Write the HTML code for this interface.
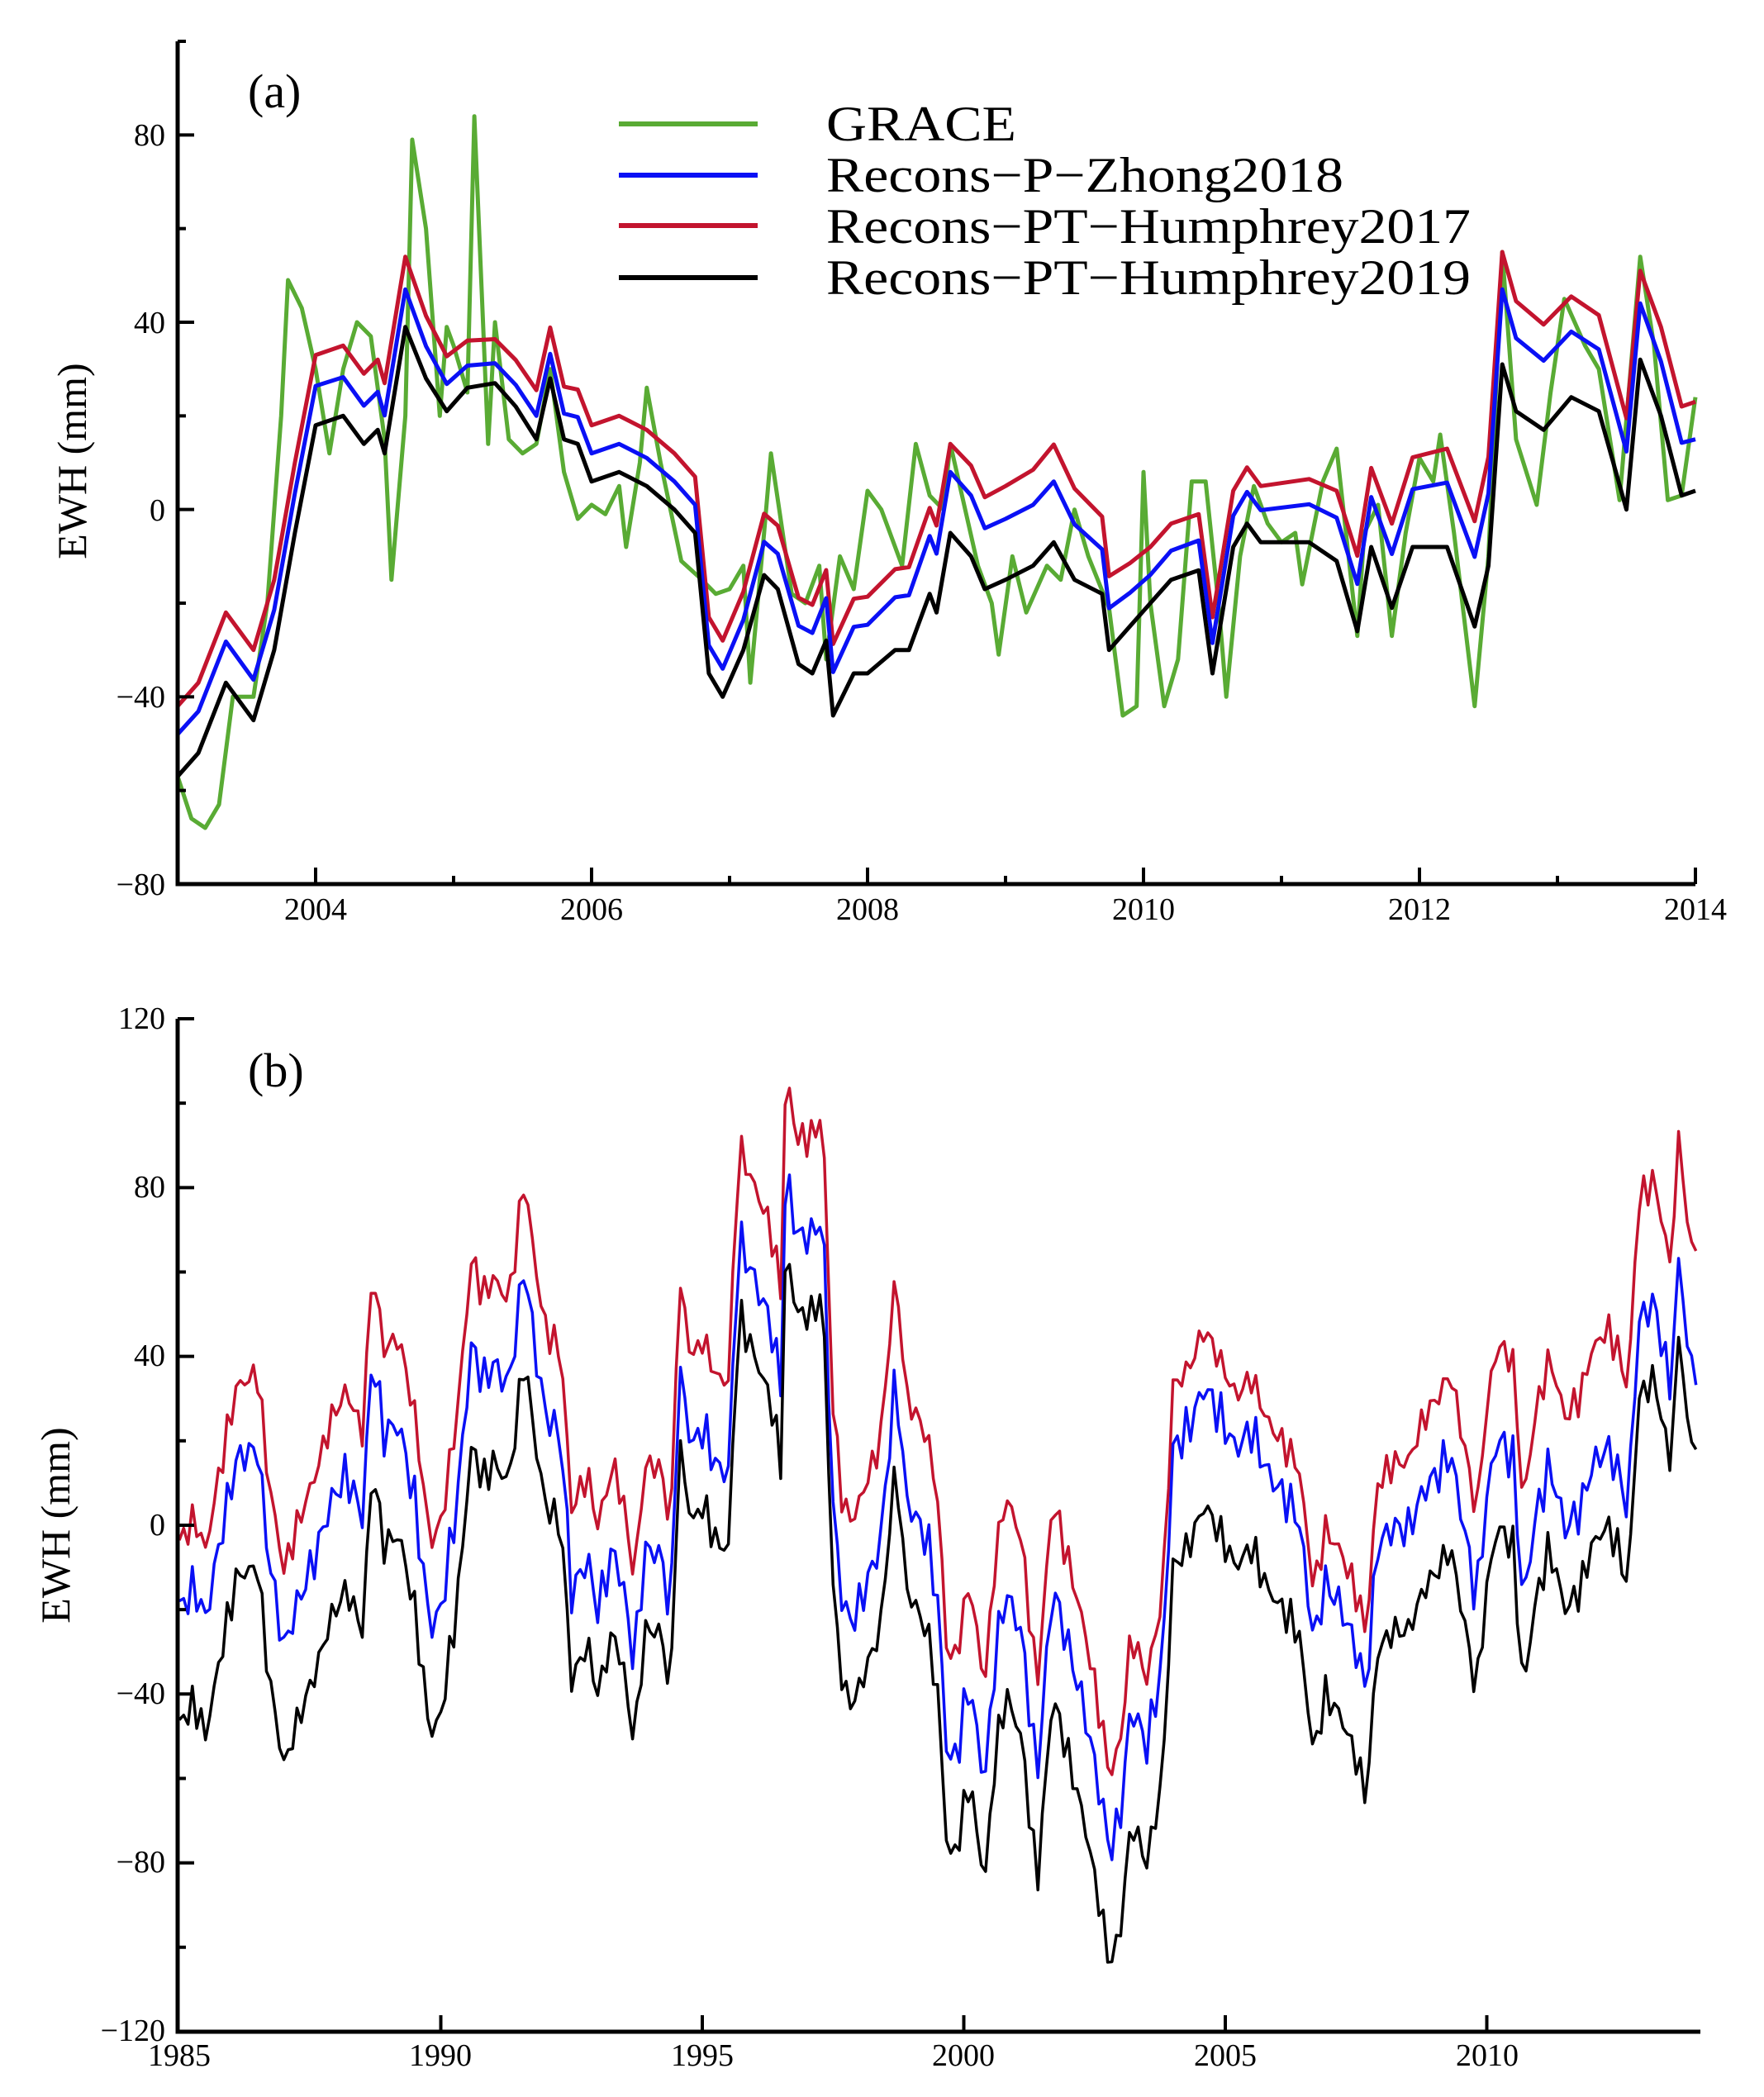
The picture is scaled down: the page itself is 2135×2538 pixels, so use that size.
<!DOCTYPE html>
<html><head><meta charset="utf-8"><style>
html,body{margin:0;padding:0;background:#fff}
svg{display:block}
text{font-family:"Liberation Serif",serif;fill:#000}
</style></head><body>
<svg id="s" width="2135" height="2538" viewBox="0 0 2135 2538" xmlns="http://www.w3.org/2000/svg">
<g id="a"></g>
<g id="b"></g>
<g font-size="38">
<text x="200" y="176" text-anchor="end">80</text>
<text x="200" y="403" text-anchor="end">40</text>
<text x="200" y="630" text-anchor="end">0</text>
<text x="200" y="856" text-anchor="end">−40</text>
<text x="200" y="1083" text-anchor="end">−80</text>
<text x="382" y="1113" text-anchor="middle">2004</text>
<text x="716" y="1113" text-anchor="middle">2006</text>
<text x="1050" y="1113" text-anchor="middle">2008</text>
<text x="1384" y="1113" text-anchor="middle">2010</text>
<text x="1718" y="1113" text-anchor="middle">2012</text>
<text x="2052" y="1113" text-anchor="middle">2014</text>
<text x="200" y="1245" text-anchor="end">120</text>
<text x="200" y="1449" text-anchor="end">80</text>
<text x="200" y="1653" text-anchor="end">40</text>
<text x="200" y="1858" text-anchor="end">0</text>
<text x="200" y="2062" text-anchor="end">−40</text>
<text x="200" y="2266" text-anchor="end">−80</text>
<text x="200" y="2470" text-anchor="end">−120</text>
<text x="217" y="2500" text-anchor="middle">1985</text>
<text x="533" y="2500" text-anchor="middle">1990</text>
<text x="850" y="2500" text-anchor="middle">1995</text>
<text x="1166" y="2500" text-anchor="middle">2000</text>
<text x="1483" y="2500" text-anchor="middle">2005</text>
<text x="1800" y="2500" text-anchor="middle">2010</text>
</g>
<text x="300" y="130" font-size="58">(a)</text>
<text x="300" y="1315" font-size="58">(b)</text>
<text font-size="50" transform="translate(104,558) rotate(-90)" text-anchor="middle">EWH (mm)</text>
<text font-size="50" transform="translate(84,1846) rotate(-90)" text-anchor="middle">EWH (mm)</text>
<g stroke-width="6">
<line x1="749" y1="150" x2="917" y2="150" stroke="#59ab34"/>
<line x1="749" y1="212" x2="917" y2="212" stroke="#0a10f5"/>
<line x1="749" y1="273" x2="917" y2="273" stroke="#c3142e"/>
<line x1="749" y1="336" x2="917" y2="336" stroke="#000"/>
</g>
<g font-size="60">
<text x="1000" y="170" textLength="230" lengthAdjust="spacingAndGlyphs">GRACE</text>
<text x="1000" y="232" textLength="626" lengthAdjust="spacingAndGlyphs">Recons−P−Zhong2018</text>
<text x="1000" y="294" textLength="780" lengthAdjust="spacingAndGlyphs">Recons−PT−Humphrey2017</text>
<text x="1000" y="356" textLength="780" lengthAdjust="spacingAndGlyphs">Recons−PT−Humphrey2019</text>
</g>
</svg>
<script>
var NS="http://www.w3.org/2000/svg";
function el(g,t,a){var e=document.createElementNS(NS,t);for(var k in a)e.setAttribute(k,a[k]);g.appendChild(e);return e;}
function interp(pts,t){if(t<=pts[0])return pts[1];for(var i=0;i<pts.length-2;i+=2){if(t>=pts[i]&&t<=pts[i+2]){var f=(t-pts[i])/(pts[i+2]-pts[i]);return pts[i+1]+f*(pts[i+3]-pts[i+1]);}}return pts[pts.length-1];}
function noise(t,s){return Math.sin(t*47.3+s)*0.6+Math.sin(t*113.7+s*2.1)*0.4;}
var ga=document.getElementById('a');
function ax(t){return 215+(t-2003)*167;} function ay(v){return 50+(100-v)*5.6667;}
var blk=[2003.0,-57,2003.15,-52,2003.35,-37,2003.55,-45,2003.7,-30,2003.85,-5,2004.0,18,2004.2,20,2004.35,14,2004.45,17,2004.5,12,2004.6,30,2004.65,39,2004.8,28,2004.95,21,2005.1,26,2005.3,27,2005.45,22,2005.6,15,2005.7,28,2005.8,15,2005.9,14,2006.0,6,2006.2,8,2006.4,5,2006.6,0,2006.75,-5,2006.85,-35,2006.95,-40,2007.1,-30,2007.25,-14,2007.35,-17,2007.5,-33,2007.6,-35,2007.7,-28,2007.75,-44,2007.9,-35,2008.0,-35,2008.2,-30,2008.3,-30,2008.45,-18,2008.5,-22,2008.6,-5,2008.75,-10,2008.85,-17,2009.0,-15,2009.2,-12,2009.35,-7,2009.5,-15,2009.7,-18,2009.75,-30,2009.9,-25,2010.05,-20,2010.2,-15,2010.4,-13,2010.5,-35,2010.65,-8,2010.75,-3,2010.85,-7,2011.2,-7,2011.4,-11,2011.55,-26,2011.65,-8,2011.8,-21,2011.95,-8,2012.2,-8,2012.4,-25,2012.5,-12,2012.6,31,2012.7,21,2012.9,17,2013.1,24,2013.3,21,2013.5,0,2013.6,32,2013.75,20,2013.9,3,2014.0,4];
var grn=[2003.0,-57,2003.1,-66,2003.2,-68,2003.3,-63,2003.4,-40,2003.55,-40,2003.65,-20,2003.75,20,2003.8,49,2003.9,43,2004.0,30,2004.1,12,2004.2,30,2004.3,40,2004.4,37,2004.5,15,2004.55,-15,2004.65,20,2004.7,79,2004.8,60,2004.9,20,2004.95,39,2005.0,35,2005.1,25,2005.15,84,2005.25,14,2005.3,40,2005.4,15,2005.5,12,2005.6,14,2005.7,30,2005.8,8,2005.9,-2,2006.0,1,2006.1,-1,2006.2,5,2006.25,-8,2006.35,10,2006.4,26,2006.5,10,2006.65,-11,2006.8,-15,2006.9,-18,2007.0,-17,2007.1,-12,2007.15,-37,2007.25,-5,2007.3,12,2007.45,-18,2007.55,-20,2007.65,-12,2007.7,-32,2007.8,-10,2007.9,-17,2008.0,4,2008.1,0,2008.25,-12,2008.35,14,2008.45,3,2008.55,0,2008.6,14,2008.8,-12,2008.9,-20,2008.95,-31,2009.05,-10,2009.15,-22,2009.3,-12,2009.4,-15,2009.5,0,2009.6,-10,2009.75,-21,2009.85,-44,2009.95,-42,2010.0,8,2010.05,-20,2010.15,-42,2010.25,-32,2010.35,6,2010.45,6,2010.55,-22,2010.6,-40,2010.7,-10,2010.8,5,2010.9,-3,2011.0,-7,2011.1,-5,2011.15,-16,2011.3,6,2011.4,13,2011.55,-27,2011.6,-5,2011.7,1,2011.8,-27,2011.9,-5,2012.0,11,2012.1,6,2012.15,16,2012.25,-5,2012.4,-42,2012.5,-10,2012.6,55,2012.7,15,2012.85,1,2012.95,25,2013.05,45,2013.2,35,2013.3,30,2013.45,2,2013.6,54,2013.7,35,2013.8,2,2013.9,3,2014.0,24];
var rOff=[2003,15,2004.65,15,2005.2,9,2006,12,2007,12,2008.6,19,2009.4,21,2010,12,2011,12,2012.6,24,2013.6,19,2014,19];
var bOff=[2003,9,2004.65,8,2005.2,4,2006,6,2007,6,2008.6,13,2009.4,13,2010,6,2011,7,2012.6,16,2013.6,12,2014,11];
function poly(g,pts,col,fx,fy,w){var d='';for(var i=0;i<pts.length;i+=2)d+=(i?' ':'')+fx(pts[i]).toFixed(1)+','+fy(pts[i+1]).toFixed(1);el(g,'polyline',{points:d,fill:'none',stroke:col,'stroke-width':w,'stroke-linejoin':'round'});}
function off(pts,f){var r=[];for(var i=0;i<pts.length;i+=2){r.push(pts[i],pts[i+1]+f(pts[i]));}return r;}
poly(ga,grn,'#59ab34',ax,ay,5);
poly(ga,off(blk,function(t){return interp(rOff,t);}),'#c3142e',ax,ay,5);
poly(ga,off(blk,function(t){return interp(bOff,t);}),'#0a10f5',ax,ay,5);
poly(ga,blk,'#000',ax,ay,5);
el(ga,'path',{d:'M215,50 V1070 H2052',fill:'none',stroke:'#000','stroke-width':5});
for(var v=-80;v<=100;v+=20){var y=ay(v);el(ga,'line',{x1:215,y1:y,x2:v%40==0?235:225,y2:y,stroke:'#000','stroke-width':4});}
for(var t=2004;t<=2014;t++){var x=ax(t);el(ga,'line',{x1:x,y1:1070,x2:x,y2:t%2==0?1050:1060,stroke:'#000','stroke-width':4});}
var gb=document.getElementById('b');
function bx(t){return 217+(t-1985)*63.3;} function by(v){return 1233+(120-v)*5.108;}
var kb=[1985.0,-47,1985.3,-42,1985.5,-50,1985.8,-30,1986.1,-12,1986.5,-10,1986.7,-35,1987.0,-57,1987.3,-45,1987.6,-35,1987.9,-22,1988.2,-15,1988.5,-25,1988.7,15,1988.9,-5,1989.2,-2,1989.5,-20,1989.8,-50,1990.0,-45,1990.3,-20,1990.6,20,1990.8,10,1991.0,15,1991.3,10,1991.6,40,1991.8,20,1992.0,5,1992.3,0,1992.5,-37,1992.8,-28,1993.0,-40,1993.3,-25,1993.5,-35,1993.7,-52,1993.9,-25,1994.2,-25,1994.4,-40,1994.55,20,1994.8,0,1995.0,5,1995.3,-5,1995.5,-5,1995.7,50,1996.0,40,1996.3,30,1996.5,15,1996.6,67,1996.8,50,1997.1,50,1997.3,55,1997.5,-15,1997.7,-40,1997.9,-42,1998.1,-35,1998.4,-25,1998.7,15,1998.9,-15,1999.1,-20,1999.3,-25,1999.5,-40,1999.7,-80,1999.9,-75,2000.1,-60,2000.4,-85,2000.6,-55,2000.8,-40,2001.1,-50,2001.4,-85,2001.7,-40,2002.0,-55,2002.3,-70,2002.6,-90,2002.8,-105,2003.0,-95,2003.2,-70,2003.5,-80,2003.8,-60,2004.0,-10,2004.3,-5,2004.6,5,2004.9,-2,2005.2,-10,2005.5,-5,2005.8,-15,2006.1,-20,2006.4,-25,2006.7,-55,2006.9,-40,2007.2,-45,2007.5,-55,2007.7,-65,2007.9,-30,2008.2,-25,2008.5,-25,2008.8,-15,2009.1,-10,2009.3,-5,2009.6,-25,2009.8,-40,2010.0,-15,2010.2,0,2010.5,-5,2010.7,-40,2010.9,-20,2011.2,-5,2011.5,-20,2011.8,-15,2012.0,-5,2012.3,0,2012.5,-5,2012.7,-15,2012.9,30,2013.2,35,2013.5,15,2013.7,48,2013.85,20,2014.0,20];
var B=[],Bl=[],R=[];
for(var m=0;m<=348;m++){var t=1985+m/12;var v=interp(kb,t)+5*noise(t,1);
var ro=43+4*Math.sin((t-1985)*0.5),bo=23+5*Math.sin((t-1985)*0.35+1);
B.push(t,v);Bl.push(t,v+bo+3*noise(t,2));R.push(t,v+ro+3*noise(t,3));}
poly(gb,R,'#c3142e',bx,by,3.5);
poly(gb,Bl,'#0a10f5',bx,by,3.5);
poly(gb,B,'#000',bx,by,3.5);
el(gb,'path',{d:'M215,1233 V2459 H2058',fill:'none',stroke:'#000','stroke-width':5});
for(var v=-120;v<=120;v+=20){var y=by(v);el(gb,'line',{x1:215,y1:y,x2:v%40==0?235:225,y2:y,stroke:'#000','stroke-width':4});}
for(var t=1990;t<=2010;t+=5){var x=bx(t);el(gb,'line',{x1:x,y1:2459,x2:x,y2:2439,stroke:'#000','stroke-width':4});}
</script>
</body></html>
